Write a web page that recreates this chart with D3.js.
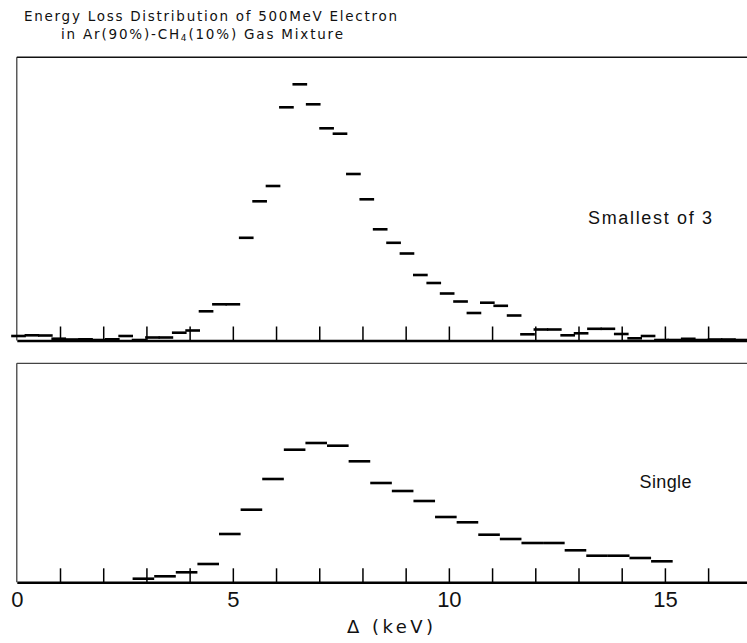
<!DOCTYPE html>
<html>
<head>
<meta charset="utf-8">
<script src="https://cdn.jsdelivr.net/npm/d3@7"></script>
<style>
  html, body { margin: 0; padding: 0; background: #fff; }
  svg { display: block; }
</style>
</head>
<body>
<svg id="chart" width="747" height="643"></svg>
<script>
// ---- Data ----
// "Smallest of 3" panel: bin centres (keV) and counts (arbitrary units)
const topCenters = [0.04,0.35,0.66,0.97,1.28,1.59,1.90,2.21,2.52,2.83,3.14,3.45,3.76,4.07,4.38,4.69,5.00,5.31,5.62,5.93,6.24,6.55,6.86,7.17,7.48,7.79,8.10,8.41,8.72,9.03,9.34,9.65,9.96,10.27,10.58,10.89,11.20,11.51,11.82,12.13,12.44,12.75,13.06,13.37,13.68,13.99,14.30,14.61,14.92,15.23,15.54,15.85,16.16,16.47,16.78];
const topCounts = [4.5,5.2,5,1.8,1,1.2,0.5,1.2,4.5,0.5,3,3,7.8,10,29.2,36.2,36.2,102.7,139.2,154.5,233.2,256.2,236.2,212.2,206.8,166.5,141.2,111.2,97.7,87,65.5,57.5,47,39,27.5,37.8,34.7,25,6.2,11,11,5.2,7.2,11.7,11.7,6.5,2.2,4.5,0.5,0.5,1.7,0.5,1,1,0.5];
// "Single" panel
const bottomCenters = [2.93,3.43,3.93,4.43,4.93,5.43,5.93,6.43,6.93,7.43,7.93,8.43,8.93,9.43,9.93,10.43,10.93,11.43,11.93,12.43,12.93,13.43,13.93,14.43,14.93];
const bottomCounts = [3.6,6,10,18.3,48.3,72.6,103.3,132.6,139.3,136.6,121,99.3,91.3,81.3,65.3,60,47.6,43.3,39.3,39.3,32,26.6,26.6,24.3,21];
const minorTicks = [1,2,3,4,5,6,7,8,9,10,11,12,13,14,15,16];
const labelTicks = [0,5,10,15];
const topBinWidth = 0.34;
const bottomBinWidth = 0.5;

// ---- Layout ----
const svg = d3.select("#chart");
const W = 747;
const sans = "Liberation Sans, Arial, sans-serif";
const wide = "DejaVu Sans, Liberation Sans, sans-serif";
const x = d3.scaleLinear().domain([0, 16.9]).range([16.8, 747]);

const panels = [
  { centers: topCenters, counts: topCounts, bw: topBinWidth,
    y: d3.scaleLinear().domain([0, 283.2]).range([340.5, 57.3]), label: "Smallest of 3",
    lx: 588, ly: 224, lw: 124, showLabels: false },
  { centers: bottomCenters, counts: bottomCounts, bw: bottomBinWidth,
    y: d3.scaleLinear().domain([0, 219]).range([582.3, 363.3]), label: "Single",
    lx: 639.5, ly: 487.5, lw: 52, showLabels: true }
];

panels.forEach((p, i) => {
  const g = svg.append("g");
  const y0 = p.y(0), yTop = p.y.range()[1];
  g.append("line").attr("x1", x(0)).attr("x2", x(0)).attr("y1", yTop).attr("y2", y0)
    .attr("stroke", "#333").attr("stroke-width", 1.2);
  g.append("line").attr("x1", x(0)).attr("x2", W).attr("y1", yTop).attr("y2", yTop)
    .attr("stroke", i === 0 ? "#111" : "#444").attr("stroke-width", i === 0 ? 1.6 : 1.2);

  const ax = d3.axisBottom(x).tickValues(minorTicks).tickSize(-14).tickSizeOuter(0).tickFormat("");
  const axG = g.append("g").attr("transform", `translate(0,${y0})`).call(ax);
  axG.select(".domain").attr("stroke", "#000").attr("stroke-width", 2.6);
  axG.selectAll(".tick line").attr("stroke", "#000").attr("stroke-width", 1.5);

  if (p.showLabels) {
    const lab = d3.axisBottom(x).tickValues(labelTicks).tickSize(0).tickPadding(8).tickFormat(d3.format("d"));
    const lG = g.append("g").attr("transform", `translate(0,${y0})`).call(lab);
    lG.select(".domain").remove();
    lG.selectAll(".tick text").style("font-size", "22px").style("font-family", sans)
      .attr("fill", "#111").attr("dy", "0.75em");
  }

  g.selectAll("line.bin").data(p.centers.map((c, j) => ({ c, v: p.counts[j] })))
    .enter().append("line").attr("class", "bin")
    .attr("x1", d => x(d.c - p.bw / 2)).attr("x2", d => x(d.c + p.bw / 2))
    .attr("y1", d => p.y(d.v)).attr("y2", d => p.y(d.v))
    .attr("stroke", "#000").attr("stroke-width", 2.6);

  g.append("text").attr("x", p.lx).attr("y", p.ly)
    .style("font-family", sans).style("font-size", "18px").attr("fill", "#111")
    .attr("textLength", p.lw).attr("lengthAdjust", "spacing").text(p.label);
});

// ---- Titles ----
svg.append("text").attr("x", 24).attr("y", 21)
  .style("font-family", wide).style("font-size", "13.5px").attr("fill", "#111")
  .attr("textLength", 373).attr("lengthAdjust", "spacing")
  .text("Energy Loss Distribution of 500MeV Electron");
const t2 = svg.append("text").attr("x", 61).attr("y", 38.5)
  .style("font-family", wide).style("font-size", "13.5px").attr("fill", "#111")
  .attr("textLength", 282).attr("lengthAdjust", "spacing");
t2.append("tspan").text("in Ar(90%)-CH");
t2.append("tspan").style("font-size", "9px").attr("dy", 2).text("4");
t2.append("tspan").attr("dy", -2).text("(10%) Gas Mixture");

// x-axis label
svg.append("text").attr("x", 347).attr("y", 633)
  .style("font-family", wide).style("font-size", "18px").attr("fill", "#111")
  .attr("textLength", 86).attr("lengthAdjust", "spacing").text("Δ (keV)");
</script>
</body>
</html>
